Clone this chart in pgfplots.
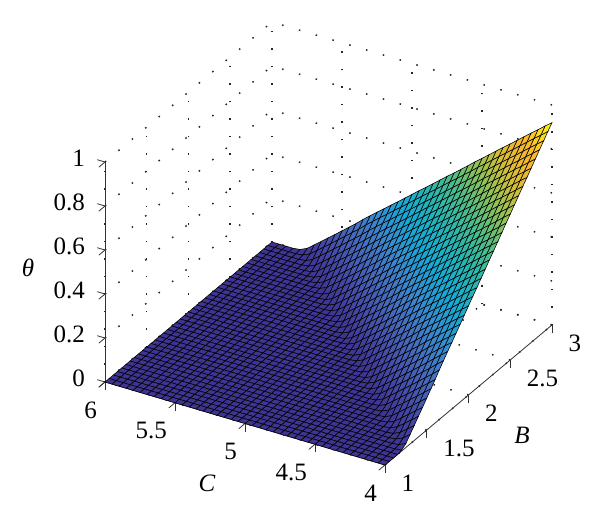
\documentclass[border=0pt]{standalone}
\usepackage{fontspec}
\setmainfont{Liberation Serif}
\usepackage{pgfplots}
\pgfplotsset{compat=1.18}
\pgfplotsset{colormap={pub}{rgb255=(62,52,145) rgb255=(70,77,168) rgb255=(70,108,190) rgb255=(55,140,208)
  rgb255=(20,170,215) rgb255=(35,182,180) rgb255=(75,188,140) rgb255=(140,195,90)
  rgb255=(215,190,55) rgb255=(252,180,45) rgb255=(252,240,20)}}

\begin{document}
\begin{tikzpicture}
\begin{axis}[
    x dir=reverse,
    x={(140pt,-41.5pt)}, y={(83.5pt,70pt)}, z={(0pt,220pt)},
    xmin=4, xmax=6, ymin=1, ymax=3, zmin=0, zmax=1,
    xtick={4,4.5,5,5.5,6}, ytick={1,1.5,2,2.5,3}, ztick={0,0.2,0.4,0.6,0.8,1},
    axis lines=left,
    axis line style={-, line width=0.8pt, black!80},
    tick style={black!80, line width=0.8pt},
    tick align=outside,
    major tick length=8pt,
    tick label style={font=\fontsize{25}{25}\selectfont, inner sep=0pt, outer sep=0pt},
    xticklabel style={anchor=east, xshift=-2pt, yshift=-23pt},
    yticklabel style={anchor=west, xshift=9pt, yshift=-16pt},
    zticklabel style={anchor=east, xshift=-14pt, yshift=9pt},
    /pgf/number format/assume math mode=true,
    grid=major,
    grid style={black!85, line width=1.5pt, dash pattern=on 1.5pt off 16pt},
    clip=false,
    colormap name=pub,
    point meta min=0, point meta max=0.9,
]
\coordinate (corner) at (axis cs:4,1,0);
% theta, one block per B (1 to 3, step 0.05); in each block C runs 4 to 6, step 0.05
\addplot3[surf, shader=faceted, faceted color=black, line width=0.55pt, z buffer=sort, point meta=z]
  table[header=false, x expr={4+0.05*mod(\coordindex,41)}, y expr={1+0.05*floor((\coordindex+0.5)/41)}, z index=0] {
0
0
0
0
0
0
0
0
0
0
0
0
0
0
0
0
0
0
0
0
0
0
0
0
0
0
0
0
0
0
0
0
0
0
0
0
0
0
0
0
0

0
0
0
0
0
0
0
0
0
0
0
0
0
0
0
0
0
0
0
0
0
0
0
0
0
0
0
0
0
0
0
0
0
0
0
0
0
0
0
0
0

0
0
0
0
0
0
0
0
0
0
0
0
0
0
0
0
0
0
0
0
0
0
0
0
0
0
0
0
0
0
0
0
0
0
0
0
0
0
0
0
0

0
0
0
0
0
0
0
0
0
0
0
0
0
0
0
0
0
0
0
0
0
0
0
0
0
0
0
0
0
0
0
0
0
0
0
0
0
0
0
0
0

0.004
0
0
0
0
0
0
0
0
0
0
0
0
0
0
0
0
0
0
0
0
0
0
0
0
0
0
0
0
0
0
0
0
0
0
0
0
0
0
0
0

0.018
0.004
0
0
0
0
0
0
0
0
0
0
0
0
0
0
0
0
0
0
0
0
0
0
0
0
0
0
0
0
0
0
0
0
0
0
0
0
0
0
0

0.043
0.018
0.004
0
0
0
0
0
0
0
0
0
0
0
0
0
0
0
0
0
0
0
0
0
0
0
0
0
0
0
0
0
0
0
0
0
0
0
0
0
0

0.068
0.043
0.018
0.004
0
0
0
0
0
0
0
0
0
0
0
0
0
0
0
0
0
0
0
0
0
0
0
0
0
0
0
0
0
0
0
0
0
0
0
0
0

0.094
0.068
0.043
0.018
0.004
0
0
0
0
0
0
0
0
0
0
0
0
0
0
0
0
0
0
0
0
0
0
0
0
0
0
0
0
0
0
0
0
0
0
0
0

0.119
0.094
0.068
0.043
0.018
0.004
0
0
0
0
0
0
0
0
0
0
0
0
0
0
0
0
0
0
0
0
0
0
0
0
0
0
0
0
0
0
0
0
0
0
0

0.145
0.119
0.094
0.068
0.043
0.018
0.004
0
0
0
0
0
0
0
0
0
0
0
0
0
0
0
0
0
0
0
0
0
0
0
0
0
0
0
0
0
0
0
0
0
0

0.171
0.145
0.119
0.094
0.068
0.043
0.018
0.004
0
0
0
0
0
0
0
0
0
0
0
0
0
0
0
0
0
0
0
0
0
0
0
0
0
0
0
0
0
0
0
0
0

0.197
0.171
0.145
0.119
0.094
0.068
0.043
0.018
0.004
0
0
0
0
0
0
0
0
0
0
0
0
0
0
0
0
0
0
0
0
0
0
0
0
0
0
0
0
0
0
0
0

0.225
0.197
0.171
0.145
0.119
0.094
0.068
0.043
0.018
0.004
0
0
0
0
0
0
0
0
0
0
0
0
0
0
0
0
0
0
0
0
0
0
0
0
0
0
0
0
0
0
0

0.251
0.225
0.197
0.171
0.145
0.119
0.094
0.068
0.043
0.018
0.004
0
0
0
0
0
0
0
0
0
0
0
0
0
0
0
0
0
0
0
0
0
0
0
0
0
0
0
0
0
0

0.277
0.251
0.225
0.197
0.171
0.145
0.119
0.094
0.068
0.043
0.018
0.004
0
0
0
0
0
0
0
0
0
0
0
0
0
0
0
0
0
0
0
0
0
0
0
0
0
0
0
0
0

0.302
0.277
0.251
0.225
0.197
0.171
0.145
0.119
0.094
0.068
0.043
0.018
0.004
0
0
0
0
0
0
0
0
0
0
0
0
0
0
0
0
0
0
0
0
0
0
0
0
0
0
0
0

0.328
0.302
0.277
0.251
0.225
0.197
0.171
0.145
0.119
0.094
0.068
0.043
0.018
0.004
0
0
0
0
0
0
0
0
0
0
0
0
0
0
0
0
0
0
0
0
0
0
0
0
0
0
0

0.353
0.328
0.302
0.277
0.251
0.225
0.197
0.171
0.145
0.119
0.094
0.068
0.043
0.018
0.004
0
0
0
0
0
0
0
0
0
0
0
0
0
0
0
0
0
0
0
0
0
0
0
0
0
0

0.379
0.353
0.328
0.302
0.277
0.251
0.225
0.197
0.171
0.145
0.119
0.094
0.068
0.043
0.018
0.004
0
0
0
0
0
0
0
0
0
0
0
0
0
0
0
0
0
0
0
0
0
0
0
0
0

0.405
0.379
0.353
0.328
0.302
0.277
0.251
0.225
0.197
0.171
0.145
0.119
0.094
0.068
0.043
0.018
0.004
0
0
0
0
0
0
0
0
0
0
0
0
0
0
0
0
0
0
0
0
0
0
0
0

0.431
0.405
0.379
0.353
0.328
0.302
0.277
0.251
0.225
0.197
0.171
0.145
0.119
0.094
0.068
0.043
0.018
0.004
0
0
0
0
0
0
0
0
0
0
0
0
0
0
0
0
0
0
0
0
0
0
0

0.456
0.431
0.405
0.379
0.353
0.328
0.302
0.277
0.251
0.225
0.197
0.171
0.145
0.119
0.094
0.068
0.043
0.018
0.004
0
0
0
0
0
0
0
0
0
0
0
0
0
0
0
0
0
0
0
0
0
0

0.482
0.456
0.431
0.405
0.379
0.353
0.328
0.302
0.277
0.251
0.225
0.197
0.171
0.145
0.119
0.094
0.068
0.043
0.018
0.004
0
0
0
0
0
0
0
0
0
0
0
0
0
0
0
0
0
0
0
0
0

0.508
0.482
0.456
0.431
0.405
0.379
0.353
0.328
0.302
0.277
0.251
0.225
0.197
0.171
0.145
0.119
0.094
0.068
0.043
0.018
0.004
0
0
0
0
0
0
0
0
0
0
0
0
0
0
0
0
0
0
0
0

0.534
0.508
0.482
0.456
0.431
0.405
0.379
0.353
0.328
0.302
0.277
0.251
0.225
0.197
0.171
0.145
0.119
0.094
0.068
0.043
0.018
0.004
0
0
0
0
0
0
0
0
0
0
0
0
0
0
0
0
0
0
0

0.559
0.534
0.508
0.482
0.456
0.431
0.405
0.379
0.353
0.328
0.302
0.277
0.251
0.225
0.197
0.171
0.145
0.119
0.094
0.068
0.043
0.018
0.004
0
0
0
0
0
0
0
0
0
0
0
0
0
0
0
0
0
0

0.585
0.559
0.534
0.508
0.482
0.456
0.431
0.405
0.379
0.353
0.328
0.302
0.277
0.251
0.225
0.197
0.171
0.145
0.119
0.094
0.068
0.043
0.018
0.004
0
0
0
0
0
0
0
0
0
0
0
0
0
0
0
0
0

0.611
0.585
0.559
0.534
0.508
0.482
0.456
0.431
0.405
0.379
0.353
0.328
0.302
0.277
0.251
0.225
0.197
0.171
0.145
0.119
0.094
0.068
0.043
0.018
0.004
0
0
0
0
0
0
0
0
0
0
0
0
0
0
0
0

0.638
0.611
0.585
0.559
0.534
0.508
0.482
0.456
0.431
0.405
0.379
0.353
0.328
0.302
0.277
0.251
0.225
0.197
0.171
0.145
0.119
0.094
0.068
0.043
0.018
0.004
0
0
0
0
0
0
0
0
0
0
0
0
0
0
0

0.663
0.638
0.611
0.585
0.559
0.534
0.508
0.482
0.456
0.431
0.405
0.379
0.353
0.328
0.302
0.277
0.251
0.225
0.197
0.171
0.145
0.119
0.094
0.068
0.043
0.018
0.004
0
0
0
0
0
0
0
0
0
0
0
0
0
0

0.689
0.663
0.638
0.611
0.585
0.559
0.534
0.508
0.482
0.456
0.431
0.405
0.379
0.353
0.328
0.302
0.277
0.251
0.225
0.197
0.171
0.145
0.119
0.094
0.068
0.043
0.018
0.004
0
0
0
0
0
0
0
0
0
0
0
0
0

0.715
0.689
0.663
0.638
0.611
0.585
0.559
0.534
0.508
0.482
0.456
0.431
0.405
0.379
0.353
0.328
0.302
0.277
0.251
0.225
0.197
0.171
0.145
0.119
0.094
0.068
0.043
0.018
0.004
0
0
0
0
0
0
0
0
0
0
0
0

0.741
0.715
0.689
0.663
0.638
0.611
0.585
0.559
0.534
0.508
0.482
0.456
0.431
0.405
0.379
0.353
0.328
0.302
0.277
0.251
0.225
0.197
0.171
0.145
0.119
0.094
0.068
0.043
0.018
0.004
0
0
0
0
0
0
0
0
0
0
0

0.766
0.741
0.715
0.689
0.663
0.638
0.611
0.585
0.559
0.534
0.508
0.482
0.456
0.431
0.405
0.379
0.353
0.328
0.302
0.277
0.251
0.225
0.197
0.171
0.145
0.119
0.094
0.068
0.043
0.018
0.004
0
0
0
0
0
0
0
0
0
0

0.792
0.766
0.741
0.715
0.689
0.663
0.638
0.611
0.585
0.559
0.534
0.508
0.482
0.456
0.431
0.405
0.379
0.353
0.328
0.302
0.277
0.251
0.225
0.197
0.171
0.145
0.119
0.094
0.068
0.043
0.018
0.004
0
0
0
0
0
0
0
0
0

0.818
0.792
0.766
0.741
0.715
0.689
0.663
0.638
0.611
0.585
0.559
0.534
0.508
0.482
0.456
0.431
0.405
0.379
0.353
0.328
0.302
0.277
0.251
0.225
0.197
0.171
0.145
0.119
0.094
0.068
0.043
0.018
0.004
0
0
0
0
0
0
0
0

0.844
0.818
0.792
0.766
0.741
0.715
0.689
0.663
0.638
0.611
0.585
0.559
0.534
0.508
0.482
0.456
0.431
0.405
0.379
0.353
0.328
0.302
0.277
0.251
0.225
0.197
0.171
0.145
0.119
0.094
0.068
0.043
0.018
0.004
0
0
0
0
0
0
0

0.869
0.844
0.818
0.792
0.766
0.741
0.715
0.689
0.663
0.638
0.611
0.585
0.559
0.534
0.508
0.482
0.456
0.431
0.405
0.379
0.353
0.328
0.302
0.277
0.251
0.225
0.197
0.171
0.145
0.119
0.094
0.068
0.043
0.018
0.004
0
0
0
0
0
0

0.895
0.869
0.844
0.818
0.792
0.766
0.741
0.715
0.689
0.663
0.638
0.611
0.585
0.559
0.534
0.508
0.482
0.456
0.431
0.405
0.379
0.353
0.328
0.302
0.277
0.251
0.225
0.197
0.171
0.145
0.119
0.094
0.068
0.043
0.018
0.004
0
0
0
0
0

0.92
0.895
0.869
0.844
0.818
0.792
0.766
0.741
0.715
0.689
0.663
0.638
0.611
0.585
0.559
0.534
0.508
0.482
0.456
0.431
0.405
0.379
0.353
0.328
0.302
0.277
0.251
0.225
0.197
0.171
0.145
0.119
0.094
0.068
0.043
0.018
0.004
0
0
0
0
};
\end{axis}
\pgfresetboundingbox
\path[use as bounding box] ([shift={(-385pt,-58pt)}]corner) rectangle ([shift={(215pt,465pt)}]corner);
\node[font=\fontsize{25}{25}\selectfont\itshape] at ([shift={(-357pt,197pt)}]corner) {θ};
\node[font=\fontsize{25}{25}\selectfont\itshape] at ([shift={(-178pt,-18pt)}]corner) {C};
\node[font=\fontsize{25}{25}\selectfont\itshape] at ([shift={(137pt,30pt)}]corner) {B};
\end{tikzpicture}
\end{document}
